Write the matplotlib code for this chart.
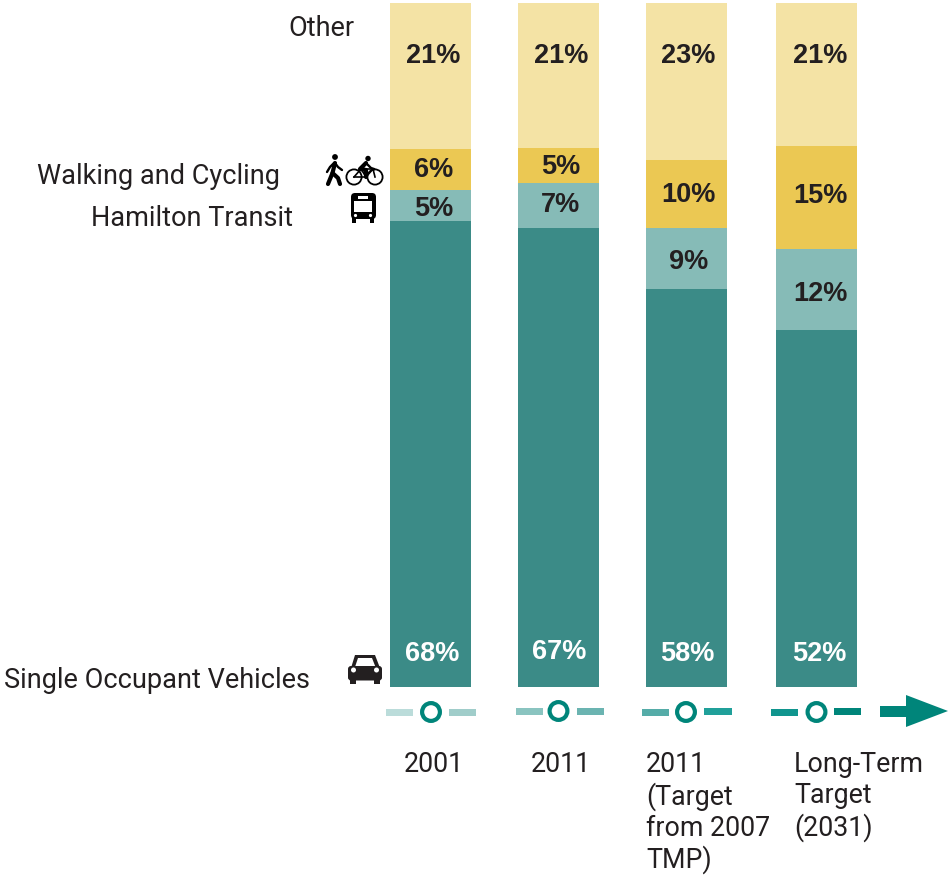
import matplotlib
matplotlib.use("Agg")
import matplotlib.pyplot as plt
from matplotlib.patches import Circle, Rectangle, FancyBboxPatch, Polygon

plt.rcParams['font.family'] = ['Roboto', 'DejaVu Sans']

# values (percent of trips)
years = ["2001", "2011", "2011\n(Target\nfrom 2007\nTMP)", "Long-Term\nTarget\n(2031)"]
single = [68.1, 67.1, 58.2, 52.2]
transit = [4.5, 6.6, 8.9, 11.8]
active = [6.1, 5.1, 9.9, 15.1]
other = [21.3, 21.2, 23.0, 20.9]

single_lab = ["68%", "67%", "58%", "52%"]
transit_lab = ["5%", "7%", "9%", "12%"]
active_lab = ["6%", "5%", "10%", "15%"]
other_lab = ["21%", "21%", "23%", "21%"]

bar_x = [430.5, 558.5, 686.5, 816.5]
lab_x = [433.5, 561, 688.5, 820.5]
dark = "#3b8b87"
light = "#86bbb7"
yellow = "#ebc853"
pale = "#f4e3a5"
text_col = "#231f20"
ring = "#00857a"

fig = plt.figure(figsize=(9.48, 8.75), dpi=100)

# bars: y axis in percent, x in pixels
ax = fig.add_axes([0, 0, 1, 1])
ax.set_xlim(0, 948)
ax.set_ylim(-188 / 6.84, 100 + 3 / 6.84)
ax.axis("off")
bottom = [0, 0, 0, 0]
for vals, col in [(single, dark), (transit, light), (active, yellow), (other, pale)]:
    ax.bar(bar_x, vals, width=81, bottom=bottom, color=col, linewidth=0)
    bottom = [b + v for b, v in zip(bottom, vals)]

# overlay in pixel coordinates for text and pictograms
ov = fig.add_axes([0, 0, 1, 1])
ov.set_xlim(0, 948)
ov.set_ylim(875, 0)
ov.axis("off")
ov.patch.set_alpha(0)

def bold(x, y, s, col=text_col):
    ov.text(x, y + 2, s, ha="center", va="center", fontsize=19.5, fontweight="bold",
            color=col, family=["Liberation Sans", "DejaVu Sans"])

for i in range(4):
    bold(lab_x[i], 54, other_lab[i])
    bold(lab_x[i], [168, 165, 193, 194][i], active_lab[i])
    bold(lab_x[i], [207, 203, 260, 292][i], transit_lab[i])
    bold(lab_x[i] - 1.5, [652, 650, 652, 652][i], single_lab[i], "white")

def name(x, y, s, ha):
    ov.text(x, y + 2, s, ha=ha, va="center", fontsize=19.5, color=text_col)

name(355, 26, "Other", "right")
name(280, 174, "Walking and Cycling", "right")
name(293, 216, "Hamilton Transit", "right")
name(310, 679, "Single Occupant Vehicles", "right")

for x, s in zip([404, 531, 646, 794], years):
    ov.text(x, 751, s, ha="left", va="top", fontsize=19.3, color=text_col, linespacing=1.18)

# timeline dashes and rings
dashes = [
    (386, 413, 712, "#bbdcda"), (449, 476, 712, "#a0cdca"),
    (516, 543, 711, "#8ac4c0"), (577, 604, 711, "#6bb4b1"),
    (642, 669, 712, "#55aca8"), (704, 732, 711, "#20a09a"),
    (771, 798, 712, "#10958e"), (834, 861, 711, "#00857a"),
]
for x0, x1, y, col in dashes:
    ov.add_patch(Rectangle((x0, y - 3.5), x1 - x0, 7, color=col, linewidth=0))
for x, y in zip([431, 558.5, 686, 816.5], [712, 711, 712, 712]):
    ov.add_patch(Circle((x, y), 8.9, facecolor="white", edgecolor=ring, linewidth=3))
ov.add_patch(Polygon([(880, 706), (906, 706), (906, 695), (948, 711), (906, 727), (906, 717), (880, 717)],
                     closed=True, color=ring, linewidth=0))

# pedestrian
ov.add_patch(Circle((335, 157), 2.9, color="black", linewidth=0))
ov.plot([335, 332.5, 328], [163, 173, 184], color="black", lw=3, solid_capstyle="round")
ov.plot([332.5, 338, 340], [173, 178, 184], color="black", lw=3, solid_capstyle="round")
ov.plot([334, 330, 327], [163, 167, 172], color="black", lw=1.7, solid_capstyle="round")
ov.plot([335, 338, 342], [163, 167, 170], color="black", lw=1.7, solid_capstyle="round")

# bicycle
for cx in [354, 375]:
    ov.add_patch(Circle((cx, 177), 7.6, facecolor="none", edgecolor="black", linewidth=1.3))
ov.plot([354, 361, 373, 375], [177, 169, 169, 177], color="black", lw=1.2)
ov.plot([361, 366, 373], [169, 177, 169], color="black", lw=1.2)
ov.plot([354, 366], [177, 177], color="black", lw=1.2)
ov.add_patch(Circle((368, 158.5), 2.7, color="black", linewidth=0))
ov.plot([366, 360, 366, 366], [163, 169, 170, 177], color="black", lw=3, solid_capstyle="round")
ov.plot([366, 371, 374], [163, 168, 169], color="black", lw=1.7)

# bus
ov.add_patch(FancyBboxPatch((351, 193), 25, 26, boxstyle="round,pad=0,rounding_size=4", color="black", linewidth=0))
ov.add_patch(Rectangle((354, 201), 18, 11, color="white", linewidth=0))
ov.add_patch(Rectangle((358, 196), 10, 2.5, color="white", linewidth=0))
ov.add_patch(Circle((355.5, 215.5), 1.6, color="white", linewidth=0))
ov.add_patch(Circle((370.5, 215.5), 1.6, color="white", linewidth=0))
ov.add_patch(Rectangle((352, 218), 4.5, 5, color="black", linewidth=0))
ov.add_patch(Rectangle((370, 218), 4.5, 5, color="black", linewidth=0))

# car
car = "#231f20"
ov.add_patch(Polygon([(351, 668), (355, 655), (375, 655), (380, 668)], closed=True, color=car, linewidth=0))
ov.add_patch(Polygon([(355, 667), (358, 658), (372, 658), (375.5, 667)], closed=True, color="white", linewidth=0))
ov.add_patch(FancyBboxPatch((348, 666), 34, 14.5, boxstyle="round,pad=0,rounding_size=3", color=car, linewidth=0))
ov.add_patch(Circle((353.5, 670), 2.5, color="white", linewidth=0))
ov.add_patch(Circle((376.5, 670), 2.5, color="white", linewidth=0))
ov.add_patch(Rectangle((350, 679), 6, 5, color=car, linewidth=0))
ov.add_patch(Rectangle((374, 679), 6, 5, color=car, linewidth=0))

fig.savefig("out.png", dpi=100)
